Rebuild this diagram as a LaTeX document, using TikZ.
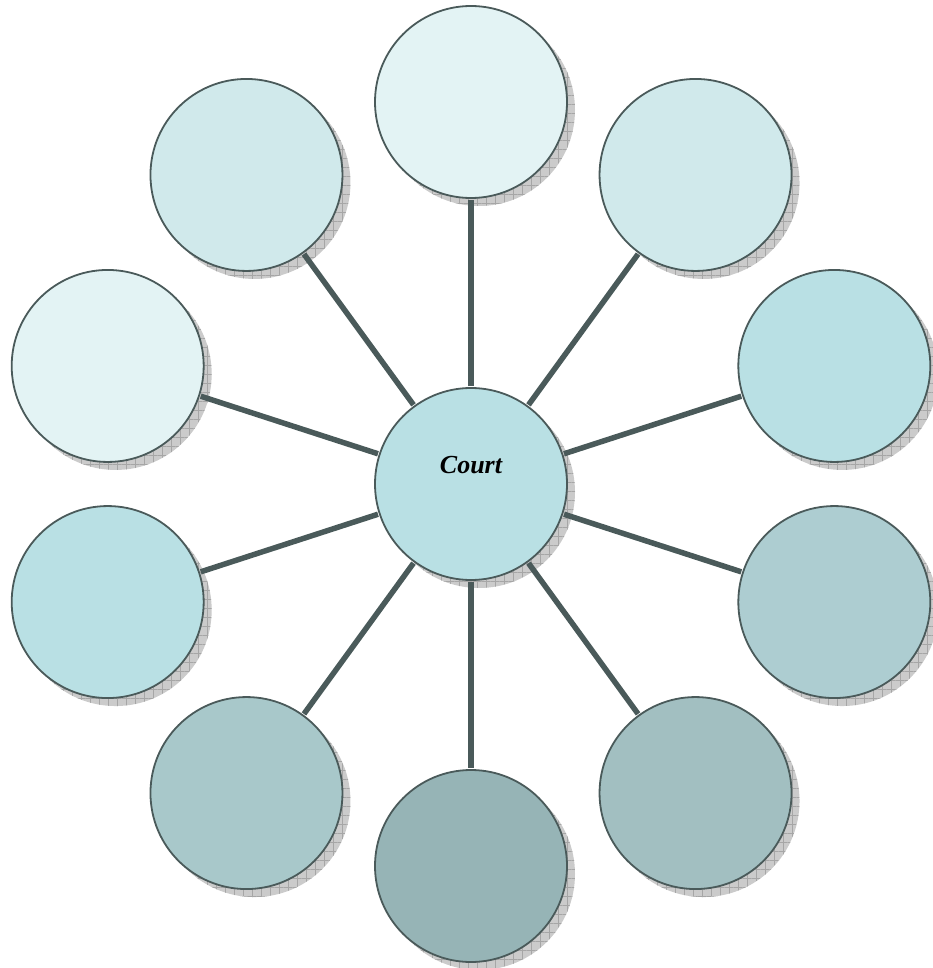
\documentclass[tikz,border=0pt]{standalone}
\usepackage{fontspec}
\setmainfont{Liberation Serif}
\usetikzlibrary{shadows,patterns.meta,calc}
\definecolor{edgec}{HTML}{4A5A5A}
\definecolor{cA}{HTML}{E3F3F4}
\definecolor{cB}{HTML}{D0E9EB}
\definecolor{cC}{HTML}{B9E0E4}
\definecolor{cD}{HTML}{ADCDD1}
\definecolor{cE}{HTML}{A2BFC1}
\definecolor{cF}{HTML}{96B4B6}
\definecolor{cG}{HTML}{A8C8CA}
\definecolor{shadefill}{HTML}{CBCBCB}
\definecolor{shadeline}{HTML}{A6A6A6}
\tikzset{
  bubble/.style={circle, draw=edgec, line width=1.8pt, minimum size=192pt, inner sep=0pt,
    general shadow={shadow xshift=8pt, shadow yshift=-8pt, fill=shadefill, draw=none},
    general shadow={shadow xshift=8pt, shadow yshift=-8pt, draw=none,
      pattern={Hatch[angle=0,distance=9pt,line width=0.5pt]}, pattern color=shadeline}},
  spoke/.style={draw=edgec, line width=5.5pt}
}
\begin{document}
\begin{tikzpicture}[x=1pt,y=1pt]
\useasboundingbox (0,0) rectangle (932,-968);
\coordinate (o) at (471,-484);
\node[bubble, fill=cC] (c) at (o) {};
\node[font=\bfseries\itshape\fontsize{26}{30}\selectfont] (lbl) at (471,-465) {Court};
\node[bubble, fill=cA] (n1) at ($(o)+(90:382)$) {};
\node[bubble, fill=cB] (n2) at ($(o)+(54:382)$) {};
\node[bubble, fill=cC] (n3) at ($(o)+(18:382)$) {};
\node[bubble, fill=cD] (n4) at ($(o)+(-18:382)$) {};
\node[bubble, fill=cE] (n5) at ($(o)+(-54:382)$) {};
\node[bubble, fill=cF] (n6) at ($(o)+(-90:382)$) {};
\node[bubble, fill=cG] (n7) at ($(o)+(-126:382)$) {};
\node[bubble, fill=cC] (n8) at ($(o)+(-162:382)$) {};
\node[bubble, fill=cA] (n9) at ($(o)+(162:382)$) {};
\node[bubble, fill=cB] (n10) at ($(o)+(126:382)$) {};
\foreach \n in {n1,n2,n3,n4,n5,n6,n7,n8,n9,n10}
  \draw[spoke, shorten <=0.9pt, shorten >=0.9pt] (c) -- (\n);
\end{tikzpicture}
\end{document}
